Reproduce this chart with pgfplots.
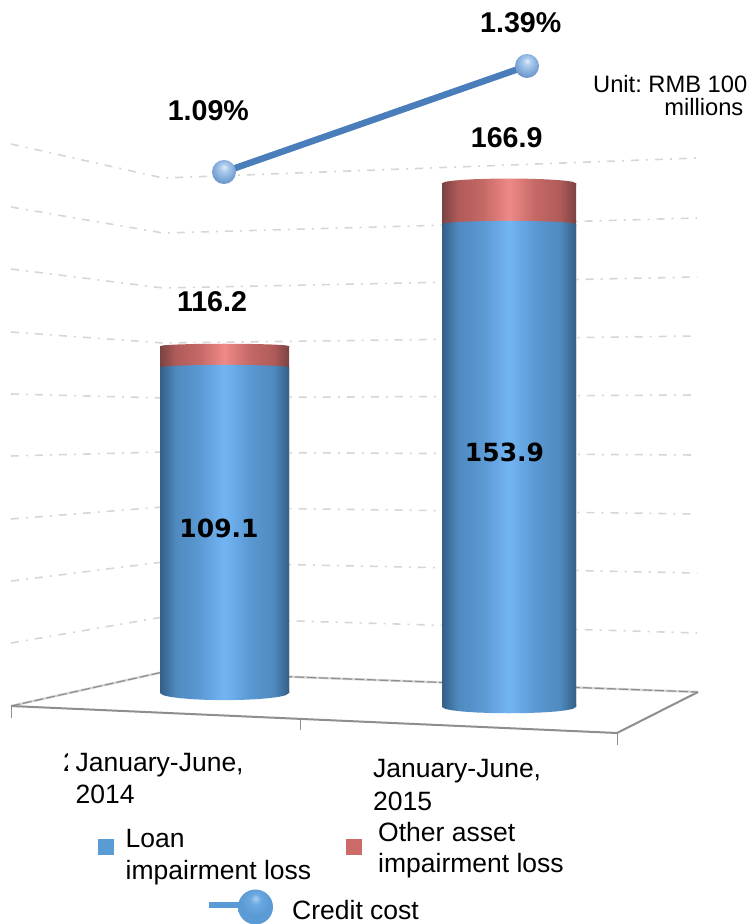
\documentclass[border=0pt]{standalone}
\usepackage{pgfplots}
\usepackage{pgfplotstable}
\usepackage{fontspec}
\pgfplotsset{compat=1.18}
\setmainfont{Liberation Sans}
\newfontfamily\dejavu{DejaVu Sans}
\frenchspacing

\newcommand{\lab}{\fontsize{26.5}{30}\selectfont}
\newcommand{\boldlab}{\fontsize{28.6}{32}\selectfont\bfseries}
\newcommand{\innerlab}{\fontsize{25}{28}\selectfont\dejavu\bfseries}

\definecolor{gridgray}{HTML}{D6D6D6}
\definecolor{floorgray}{HTML}{8E8E8E}
\definecolor{lossblue}{HTML}{5B9BD5}
\definecolor{lossred}{HTML}{CB6B68}
\definecolor{costline}{HTML}{4A7EBB}

\definecolor{bcA}{HTML}{345F87}
\definecolor{bcB}{HTML}{4F8ABF}
\definecolor{bcC}{HTML}{5A98D2}
\definecolor{bcD}{HTML}{72B5F3}
\definecolor{rcA}{HTML}{7A4342}
\definecolor{rcB}{HTML}{B05B59}
\definecolor{rcC}{HTML}{C46865}
\definecolor{rcD}{HTML}{EE8A87}

% Cylinder shadings, dark at the rims and bright along the middle
\pgfdeclarehorizontalshading{bluecyl}{100bp}{
  color(0bp)=(bcA); color(25bp)=(bcA); color(31bp)=(bcB); color(40bp)=(bcC);
  color(50bp)=(bcD); color(60bp)=(bcC); color(69bp)=(bcB); color(75bp)=(bcA);
  color(100bp)=(bcA)}
\pgfdeclarehorizontalshading{redcyl}{100bp}{
  color(0bp)=(rcA); color(25bp)=(rcA); color(31bp)=(rcB); color(40bp)=(rcC);
  color(50bp)=(rcD); color(60bp)=(rcC); color(69bp)=(rcB); color(75bp)=(rcA);
  color(100bp)=(rcA)}

% Glossy spheres for the credit cost points and its key
\definecolor{sA}{HTML}{E4EFFA}
\definecolor{sB}{HTML}{B2CFEE}
\definecolor{sC}{HTML}{8DB4E2}
\definecolor{sD}{HTML}{7199CC}
\definecolor{sE}{HTML}{4A6C99}
\pgfdeclareradialshading{costsphere}{\pgfpoint{0bp}{11bp}}{
  color(0bp)=(sA); color(7bp)=(sB); color(17bp)=(sC); color(27bp)=(sD);
  color(34bp)=(sE); color(50bp)=(sE)}
\definecolor{kA}{HTML}{A8CFF2}
\definecolor{kB}{HTML}{6BA8E0}
\definecolor{kC}{HTML}{5B9BD5}
\definecolor{kD}{HTML}{3F78AE}
\pgfdeclareradialshading{keysphere}{\pgfpoint{0bp}{13bp}}{
  color(0bp)=(kA); color(8bp)=(kB); color(20bp)=(kC); color(31bp)=(kC);
  color(37bp)=(kD); color(50bp)=(kD)}

% Half-ellipse outline used for the rounded ends of the cylinders
\pgfplotstableread{
u h
-1 -0.5
-1 0
-0.95 0.312
-0.85 0.527
-0.7 0.714
-0.5 0.866
-0.25 0.968
0 1
0.25 0.968
0.5 0.866
0.7 0.714
0.85 0.527
0.95 0.312
1 0
1 -0.5
}\arcshape

\pgfplotsset{
  sheet/.style={at={(0,0)}, anchor=south west, hide axis, scale only axis,
    width=751pt, height=924pt, xmin=0, xmax=751},
  pixel/.style={sheet, ymin=0, ymax=924, y dir=reverse},
  grid line/.style={gridgray, line width=1.6pt, dash pattern=on 8pt off 7pt on 2pt off 7pt},
  floor line/.style={floorgray, line width=2pt},
  cylinder/.style={ybar, bar shift=0pt, draw=none, forget plot},
}

\begin{document}
\begin{tikzpicture}[every node/.style={inner sep=0pt}]
\path[use as bounding box] (0,0) rectangle (751pt,924pt);

% Walls and floor of the chart box
\begin{axis}[pixel]
  \addplot[grid line] coordinates {(11,144) (163,178) (697,158)};
  \addplot[grid line] coordinates {(11,207) (163,233) (697,218)};
  \addplot[grid line] coordinates {(11,269) (163,288) (697,277)};
  \addplot[grid line] coordinates {(11,332) (163,343) (697,336)};
  \addplot[grid line] coordinates {(11,394) (163,398) (697,395)};
  \addplot[grid line] coordinates {(11,456) (163,452) (697,455)};
  \addplot[grid line] coordinates {(11,519) (163,507) (697,514)};
  \addplot[grid line] coordinates {(11,581) (163,562) (697,573)};
  \addplot[grid line] coordinates {(11,643) (163,617) (697,633)};
  \addplot[gridgray, line width=2.4pt] coordinates {(11,706) (163,672) (698,692)};
  \addplot[floorgray, line width=1.2pt, dash pattern=on 9pt off 3pt] coordinates {(11,706) (163,672) (698,692)};
  \addplot[floor line] coordinates {(11,706) (617,733) (698,692)};
  \addplot[floorgray, line width=1pt] coordinates {(11,706) (11,718)};
  \addplot[floorgray, line width=1pt] coordinates {(300,719) (300,730)};
  \addplot[floorgray, line width=1pt] coordinates {(617,733) (617,745)};
\end{axis}

% January-June 2014: total 116.2, of which loan impairment loss 109.1
\begin{axis}[sheet, ymin=-77.39, ymax=232.16]
  \addplot[shading=redcyl, draw=none, forget plot] table[x expr={224.5+64.5*\thisrow{u}}, y expr={116.2+0.8*\thisrow{h}}] {\arcshape};
  \addplot[cylinder, bar width=129, shading=redcyl] coordinates {(224.5,116.2)};
  \addplot[cylinder, bar width=129, shading=bluecyl] coordinates {(224.5,109.1)};
  \addplot[shading=bluecyl, draw=none, forget plot] table[x expr={224.5+64.5*\thisrow{u}}, y expr={109.1+0.8*\thisrow{h}}] {\arcshape};
  \addplot[shading=bluecyl, draw=none, forget plot] table[x expr={224.5+64.5*\thisrow{u}}, y expr={-2.4*\thisrow{h}}] {\arcshape};
\end{axis}

% January-June 2015: total 166.9, of which loan impairment loss 153.9
\begin{axis}[sheet, ymin=-69.15, ymax=225.30]
  \addplot[shading=redcyl, draw=none, forget plot] table[x expr={509+67*\thisrow{u}}, y expr={166.9+1.5*\thisrow{h}}] {\arcshape};
  \addplot[cylinder, bar width=134, shading=redcyl] coordinates {(509,166.9)};
  \addplot[cylinder, bar width=134, shading=bluecyl] coordinates {(509,153.9)};
  \addplot[shading=bluecyl, draw=none, forget plot] table[x expr={509+67*\thisrow{u}}, y expr={153.9+1.0*\thisrow{h}}] {\arcshape};
  \addplot[shading=bluecyl, draw=none, forget plot] table[x expr={509+67*\thisrow{u}}, y expr={-2.0*\thisrow{h}}] {\arcshape};
\end{axis}

% Credit cost, in percent
\begin{axis}[sheet, ymin=-1.0383, ymax=1.5768]
  \addplot[costline, line width=6.5pt, mark=none, nodes near coords={},
    every node near coord/.style={circle, inner sep=0pt, minimum size=24pt,
      anchor=center, shading=costsphere, shading angle=0}]
    coordinates {(224,1.09) (527,1.39)};
\end{axis}

% Captions, value labels and the key
\begin{axis}[pixel]
  \node[anchor=base west, font=\lab] at (axis cs:63,771) {2};
  \addplot[white, fill=white, forget plot] coordinates {(68,750) (82,750) (82,790) (68,790)} -- cycle;

  \node[anchor=base east, font=\fontsize{23.7}{26}\selectfont] at (axis cs:747.5,92.5) {Unit: RMB 100};
  \node[anchor=base east, font=\fontsize{23.7}{26}\selectfont] at (axis cs:743.5,115) {millions};

  \node[anchor=base, font=\boldlab] at (axis cs:208.3,120) {1.09\%};
  \node[anchor=base, font=\boldlab] at (axis cs:520.7,32.7) {1.39\%};
  \node[anchor=base, font=\boldlab] at (axis cs:212,311) {116.2};
  \node[anchor=base, font=\boldlab] at (axis cs:506.7,147.7) {166.9};
  \node[anchor=base, font=\innerlab] at (axis cs:219,537) {109.1};
  \node[anchor=base, font=\innerlab] at (axis cs:504.5,461) {153.9};

  \node[anchor=base west, font=\lab] at (axis cs:75.5,771) {January-June,};
  \node[anchor=base west, font=\lab] at (axis cs:75.5,803) {2014};
  \node[anchor=base west, font=\lab] at (axis cs:373,777) {January-June,};
  \node[anchor=base west, font=\lab] at (axis cs:373,810) {2015};

  \addplot[fill=lossblue, draw=none, forget plot] coordinates {(98,839) (113.5,839) (113.5,855) (98,855)} -- cycle;
  \addplot[fill=lossred, draw=none, forget plot] coordinates {(346,839) (362,839) (362,855) (346,855)} -- cycle;
  \node[anchor=base west, font=\lab] at (axis cs:125.5,847) {Loan};
  \node[anchor=base west, font=\lab] at (axis cs:125.5,879) {impairment loss};
  \node[anchor=base west, font=\lab] at (axis cs:378,841) {Other asset};
  \node[anchor=base west, font=\lab] at (axis cs:378,872) {impairment loss};

  \addplot[lossblue, line width=6pt, forget plot] coordinates {(209,905) (240,905)};
  \node[anchor=base west, font=\lab] at (axis cs:292,919) {Credit cost};
  \addplot[draw=none, mark=none, forget plot, nodes near coords={},
    every node near coord/.style={circle, inner sep=0pt, minimum size=35pt,
      anchor=center, shading=keysphere, shading angle=0}]
    coordinates {(255.5,907)};
\end{axis}
\end{tikzpicture}
\end{document}
